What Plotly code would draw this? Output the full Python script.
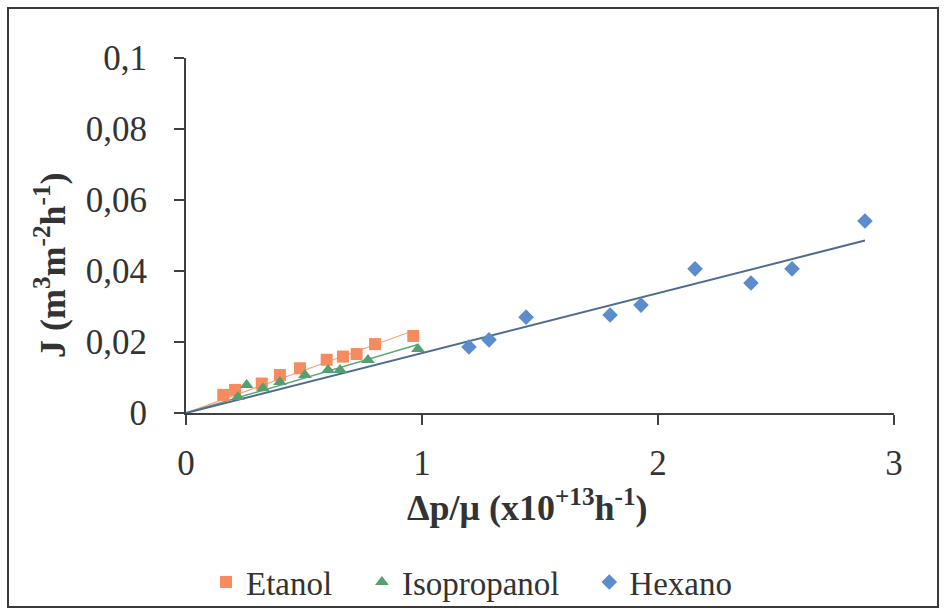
import numpy as np
import plotly.graph_objects as go

# Flux J versus Δp/μ for three solvents
etanol_x = [0.158, 0.208, 0.321, 0.398, 0.483, 0.596, 0.665, 0.723, 0.801, 0.963]
etanol_y = [0.0051, 0.0065, 0.0083, 0.0107, 0.0126, 0.0150, 0.0159, 0.0166, 0.0194, 0.0217]

isoprop_x = [0.220, 0.257, 0.326, 0.398, 0.504, 0.602, 0.653, 0.771, 0.983]
isoprop_y = [0.0045, 0.0079, 0.0070, 0.0087, 0.0107, 0.0121, 0.0121, 0.0149, 0.0180]

hexano_x = [1.199, 1.284, 1.441, 1.797, 1.928, 2.157, 2.394, 2.568, 2.877]
hexano_y = [0.0186, 0.0206, 0.0270, 0.0276, 0.0304, 0.0406, 0.0366, 0.0406, 0.0541]

x_ticks = [0, 1, 2, 3]
y_ticks = [0, 0.02, 0.04, 0.06, 0.08, 0.1]

FONT = "Liberation Serif"
TXT = "#333333"

C_ET = "#F58B5E"
C_IS = "#55A070"
C_HX = "#5B8CCB"

PAD = "\u00a0" * 3  # extra room after each legend label


def origin_fit(xs, ys):
    """Least-squares line forced through the origin, drawn from 0 to max x."""
    xs = np.asarray(xs)
    ys = np.asarray(ys)
    k = float((xs * ys).sum() / (xs * xs).sum())
    xe = float(xs.max())
    return [0.0, xe], [0.0, k * xe]


fig = go.Figure()

# trendlines
for xs, ys, col, w in [
    (etanol_x, etanol_y, "#F6A27E", 1.2),
    (isoprop_x, isoprop_y, "#5FA676", 1.5),
    (hexano_x, hexano_y, "#4D6B91", 2),
]:
    lx, ly = origin_fit(xs, ys)
    fig.add_trace(go.Scatter(x=lx, y=ly, mode="lines", line=dict(color=col, width=w),
                             showlegend=False, hoverinfo="skip"))

fig.add_trace(go.Scatter(x=etanol_x, y=etanol_y, mode="markers", name="Etanol" + PAD,
                         marker=dict(symbol="square", size=12, color=C_ET)))
fig.add_trace(go.Scatter(x=isoprop_x, y=isoprop_y, mode="markers", name="Isopropanol" + PAD,
                         marker=dict(symbol="triangle-up", size=12, color=C_IS)))
fig.add_trace(go.Scatter(x=hexano_x, y=hexano_y, mode="markers", name="Hexano",
                         marker=dict(symbol="diamond", size=12, color=C_HX)))

# plot area spans pixels x 186..894, y 58..413 of a 944x613 canvas
L, R, T, B = 186, 50, 58, 200
W, H = 944, 613
pw, ph = W - L - R, H - T - B


def px_x(p):
    return (p - L) / pw


def px_y(p):
    return (H - B - p) / ph


def axis_style(rng, vals, standoff):
    return dict(
        range=rng, tickvals=vals, ticklabelstandoff=standoff, automargin=False,
        showgrid=False, zeroline=False, showline=True, linecolor="#404040", linewidth=2,
        ticks="outside", ticklen=10, tickwidth=2, tickcolor="#404040",
        tickfont=dict(family=FONT, size=35, color=TXT),
    )


fig.update_layout(
    template="none",
    width=W, height=H,
    margin=dict(l=L, r=R, t=T, b=B, autoexpand=False),
    paper_bgcolor="white", plot_bgcolor="white",
    separators=",.",
    font=dict(family=FONT, color=TXT),
    xaxis=axis_style([0, 3], x_ticks, 8),
    yaxis=axis_style([0, 0.1], y_ticks, 20),
    legend=dict(orientation="h", x=px_x(206), y=px_y(582), xanchor="left", yanchor="middle",
                font=dict(family=FONT, size=33, color=TXT), bgcolor="rgba(0,0,0,0)",
                borderwidth=0, itemwidth=30, tracegroupgap=0),
    showlegend=True,
)

fig.add_annotation(text="<b>J (m<sup>3</sup>m<sup>-2</sup>h<sup>-1</sup>)</b>",
                   xref="paper", yref="paper", x=px_x(50), y=px_y(265),
                   xanchor="center", yanchor="middle",
                   textangle=-90, showarrow=False,
                   font=dict(family=FONT, size=36, color=TXT))
fig.add_annotation(text="<b>Δp/μ (x10<sup>+13</sup>h<sup>-1</sup>)</b>",
                   xref="paper", yref="paper", x=px_x(527), y=px_y(505),
                   xanchor="center", yanchor="middle",
                   showarrow=False, font=dict(family=FONT, size=36, color=TXT))

# outer chart frame
fig.add_shape(type="rect", xref="paper", yref="paper",
              x0=px_x(8), x1=px_x(938), y0=px_y(607), y1=px_y(8),
              line=dict(color="#3a3a3a", width=2), fillcolor="rgba(0,0,0,0)", layer="below")

fig.write_html("out.html")
